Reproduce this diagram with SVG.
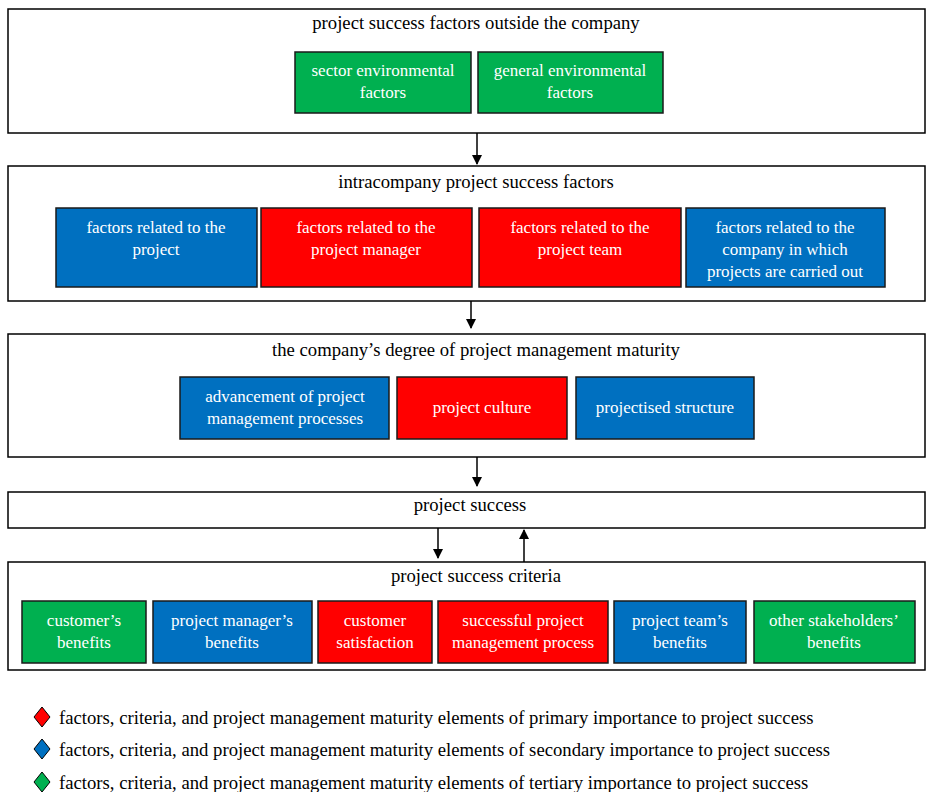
<svg xmlns="http://www.w3.org/2000/svg" width="926" height="792" viewBox="0 0 926 792">
<style>
.frame{fill:#fff;stroke:#000;stroke-width:1.5}
.box{stroke:#1a1a1a;stroke-width:1.5}
.g{fill:#00B050}.b{fill:#0070C0}.r{fill:#FF0000}
.t{font-family:"Liberation Serif","Times New Roman",serif;font-size:18.7px;fill:#000;text-anchor:middle}
.w{font-family:"Liberation Serif","Times New Roman",serif;font-size:17px;fill:#fff;text-anchor:middle}
.l{font-family:"Liberation Serif","Times New Roman",serif;font-size:18.7px;fill:#000}
.c{stroke:#000;stroke-width:1.5;fill:none}
</style>
<defs>
<marker id="ah" markerWidth="10" markerHeight="10" refX="9" refY="5" orient="auto" markerUnits="userSpaceOnUse">
<path d="M0,0 L10,5 L0,10 z" fill="#000"/>
</marker>
</defs>

<g id="outside">
<rect class="frame" x="8" y="9" width="917" height="124"/>
<text class="t" x="476" y="29">project success factors outside the company</text>
</g>
<g id="sector"><rect class="box g" x="295" y="52" width="176" height="61"/>
<text class="w" x="383" y="76">sector environmental</text><text class="w" x="383" y="98">factors</text></g>
<g id="general"><rect class="box g" x="478" y="52" width="185" height="61"/>
<text class="w" x="570" y="76">general environmental</text><text class="w" x="570" y="98">factors</text></g>

<g id="intra">
<rect class="frame" x="8" y="166" width="917" height="135"/>
<text class="t" x="476" y="188">intracompany project success factors</text>
</g>
<g id="f-project"><rect class="box b" x="56" y="208" width="201" height="79"/>
<text class="w" x="156" y="233">factors related to the</text><text class="w" x="156" y="255">project</text></g>
<g id="f-manager"><rect class="box r" x="261" y="208" width="211" height="79"/>
<text class="w" x="366" y="233">factors related to the</text><text class="w" x="366" y="255">project manager</text></g>
<g id="f-team"><rect class="box r" x="479" y="208" width="202" height="79"/>
<text class="w" x="580" y="233">factors related to the</text><text class="w" x="580" y="255">project team</text></g>
<g id="f-company"><rect class="box b" x="686" y="208" width="199" height="79"/>
<text class="w" x="785" y="233">factors related to the</text><text class="w" x="785" y="255">company in which</text><text class="w" x="785" y="277">projects are carried out</text></g>

<g id="maturity">
<rect class="frame" x="8" y="334" width="917" height="123"/>
<text class="t" x="476" y="356">the company’s degree of project management maturity</text>
</g>
<g id="processes"><rect class="box b" x="180" y="377" width="209" height="62"/>
<text class="w" x="285" y="402">advancement of project</text><text class="w" x="285" y="424">management processes</text></g>
<g id="culture"><rect class="box r" x="397" y="377" width="170" height="62"/>
<text class="w" x="482" y="413">project culture</text></g>
<g id="structure"><rect class="box b" x="576" y="377" width="178" height="62"/>
<text class="w" x="665" y="413">projectised structure</text></g>

<g id="success">
<rect class="frame" x="8" y="492" width="917" height="36"/>
<text class="t" x="470" y="511">project success</text>
</g>

<g id="criteria">
<rect class="frame" x="8" y="562" width="917" height="108"/>
<text class="t" x="476" y="582">project success criteria</text>
</g>
<g id="c-customer"><rect class="box g" x="22" y="601" width="124" height="62"/>
<text class="w" x="84" y="626">customer’s</text><text class="w" x="84" y="648">benefits</text></g>
<g id="c-pm"><rect class="box b" x="153" y="601" width="159" height="62"/>
<text class="w" x="232" y="626">project manager’s</text><text class="w" x="232" y="648">benefits</text></g>
<g id="c-satisfaction"><rect class="box r" x="318" y="601" width="114" height="62"/>
<text class="w" x="375" y="626">customer</text><text class="w" x="375" y="648">satisfaction</text></g>
<g id="c-process"><rect class="box r" x="438" y="601" width="170" height="62"/>
<text class="w" x="523" y="626">successful project</text><text class="w" x="523" y="648">management process</text></g>
<g id="c-team"><rect class="box b" x="614" y="601" width="132" height="62"/>
<text class="w" x="680" y="626">project team’s</text><text class="w" x="680" y="648">benefits</text></g>
<g id="c-other"><rect class="box g" x="754" y="601" width="161" height="62"/>
<text class="w" x="834" y="626">other stakeholders’</text><text class="w" x="834" y="648">benefits</text></g>

<g id="connectors">
<line class="c" x1="477" y1="133" x2="477" y2="164" marker-end="url(#ah)"/>
<line class="c" x1="471" y1="301" x2="471" y2="328" marker-end="url(#ah)"/>
<line class="c" x1="477" y1="457" x2="477" y2="486" marker-end="url(#ah)"/>
<line class="c" x1="438" y1="528" x2="438" y2="558" marker-end="url(#ah)"/>
<line class="c" x1="524" y1="562" x2="524" y2="530" marker-end="url(#ah)"/>
</g>

<g id="legend">
<polygon points="42,707 50,717 42,727 34,717" fill="#FF0000" stroke="#000" stroke-width="1"/>
<text class="l" x="59" y="724">factors, criteria, and project management maturity elements of primary importance to project success</text>
<polygon points="42,739 50,749 42,759 34,749" fill="#0070C0" stroke="#000" stroke-width="1"/>
<text class="l" x="59" y="756">factors, criteria, and project management maturity elements of secondary importance to project success</text>
<polygon points="42,772 50,782 42,792 34,782" fill="#00B050" stroke="#000" stroke-width="1"/>
<text class="l" x="59" y="789">factors, criteria, and project management maturity elements of tertiary importance to project success</text>
</g>
</svg>
